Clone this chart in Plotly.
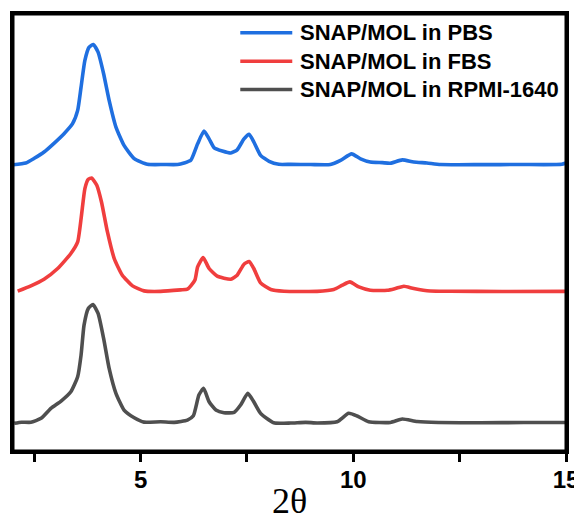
import plotly.graph_objects as go

# ---- data (2θ, intensity above each baseline) ----
pbs_x = [2.0, 2.3, 2.5, 2.73, 2.97, 3.2, 3.4, 3.52, 3.6, 3.69, 3.79, 3.89, 4.0, 4.13, 4.26, 4.42, 4.61, 4.85,
         5.16, 5.55, 5.87, 6.02, 6.18, 6.34, 6.49, 6.61, 6.73, 6.92, 7.12, 7.27, 7.43, 7.55, 7.66, 7.82, 8.02,
         8.25, 8.53, 9.0, 9.46, 9.7, 9.96, 10.17, 10.4, 10.68, 10.87, 11.15, 11.42, 11.73, 12.05, 13.0, 13.92,
         14.9, 15.0]
pbs_y = [0, 1.8, 6.5, 12.8, 21.8, 31.2, 41.2, 54.5, 77.8, 104.5, 117.8, 120.5, 112.8, 91.2, 64.5, 37.8, 19.5, 6.2,
         0.5, 0.3, 0.3, 1.8, 4.5, 21, 33.8, 26, 17, 13.8, 11.8, 15, 26, 30.5, 23, 9.5, 3.5,
         0.5, 0.5, 0.3, 0.3, 4.5, 11, 6, 2.8, 2.2, 1.6, 5, 2.8, 1.8, 0.3, 0.2, 0.3,
         0.5, 1.8]

fbs_x = [2.11, 2.42, 2.73, 3.05, 3.36, 3.52, 3.61, 3.69, 3.77, 3.85, 3.97, 4.08, 4.22, 4.38, 4.57, 4.81, 5.08,
         5.47, 5.94, 6.1, 6.18, 6.28, 6.34, 6.47, 6.61, 6.8, 7.12, 7.27, 7.43, 7.55, 7.66, 7.82, 8.06, 8.37, 9.15,
         9.54, 9.74, 9.92, 10.13, 10.4, 10.8, 10.99, 11.19, 11.42, 11.81, 12.28, 13.5, 15.0]
fbs_y = [0.5, 5.8, 12.5, 23.2, 38.2, 49.8, 76.5, 103.2, 112.5, 113.8, 106.5, 89.8, 59.8, 33.2, 16.5, 5.8, 0.8,
         0.3, 1.8, 2.5, 5.8, 12, 24.8, 34.2, 23.2, 15.5, 12.5, 16.5, 27.5, 30.2, 23.2, 8.8, 2.2, 0.4, 0.3,
         2.2, 6.5, 9.8, 4.8, 1.5, 1.4, 3.2, 5.5, 3.2, 0.6, 0.5, 0.2, 0.3]

rpmi_x = [2.03, 2.2, 2.42, 2.66, 2.89, 3.13, 3.36, 3.52, 3.6, 3.67, 3.77, 3.88, 4.0, 4.13, 4.26, 4.42, 4.61, 4.85,
          5.08, 5.47, 5.79, 6.1, 6.24, 6.37, 6.48, 6.61, 6.77, 6.96, 7.2, 7.35, 7.52, 7.66, 7.82, 8.13, 8.53,
          8.88, 9.15, 9.62, 9.89, 10.09, 10.36, 10.87, 11.15, 11.5, 12.0, 13.0, 14.0, 15.0]
rpmi_y = [-0.3, 0.8, 0.7, 4.7, 14.7, 22, 31.3, 46.3, 68, 98, 114.7, 118.7, 109.7, 84.7, 54.7, 29.7, 13, 5.3,
          0.9, 1.3, 0.7, 3, 7.3, 28, 34.7, 21.3, 13, 10.3, 10.7, 18, 29.7, 21.3, 9.7, 0.2, 0,
          0.7, 0, 1.3, 9.7, 7, 1.3, 0.6, 4, 1.5, 0.5, 0.3, 0.5, 0.5]

series_names = ["SNAP/MOL in PBS", "SNAP/MOL in FBS", "SNAP/MOL in RPMI-1640"]
series_offsets = [286.5, 159.5, 28.0]
series_colors = ["#1f6fe0", "#f03e3e", "#4f4f4f"]

x_tick_vals = [2.5, 5, 7.5, 10, 12.5, 15]
x_tick_text = ["", "5", "", "10", "", "15"]

fig = go.Figure()
for name, xs, ys, off, col in zip(series_names, [pbs_x, fbs_x, rpmi_x], [pbs_y, fbs_y, rpmi_y],
                                  series_offsets, series_colors):
    fig.add_trace(go.Scatter(
        x=xs, y=[v + off for v in ys], mode="lines", name=name,
        line=dict(color=col, width=3.6, shape="spline", smoothing=0.5),
    ))

# legend drawn as key lines + labels in paper coordinates (top-right)
legend_rows_y = [0.957, 0.892, 0.827]
shapes = [dict(type="rect", xref="paper", yref="paper", x0=0, y0=0, x1=1, y1=1,
               line=dict(color="black", width=3), layer="above")]
annotations = []
for name, col, ly in zip(series_names, series_colors, legend_rows_y):
    shapes.append(dict(type="line", xref="paper", yref="paper", x0=0.411, x1=0.505, y0=ly, y1=ly,
                       line=dict(color=col, width=3.5)))
    annotations.append(dict(xref="paper", yref="paper", x=0.5155, y=ly, xanchor="left", yanchor="middle",
                            text=name, showarrow=False,
                            font=dict(family="Liberation Sans, Arial", size=22, weight="bold", color="black")))

fig.update_layout(
    width=574, height=513,
    margin=dict(l=4.5, r=16, t=5.5, b=70, autoexpand=False),
    paper_bgcolor="white", plot_bgcolor="white",
    font=dict(family="Liberation Sans, Arial", color="black"),
    showlegend=False,
    shapes=shapes,
    annotations=annotations,
)
fig.update_xaxes(
    range=[2, 15], tickvals=x_tick_vals, ticktext=x_tick_text,
    ticks="outside", ticklen=8, tickwidth=3, tickcolor="black",
    showline=True, linewidth=3, linecolor="black", mirror=True,
    showgrid=False, zeroline=False, automargin=False,
    ticklabelstandoff=-3,
    tickfont=dict(family="Liberation Sans, Arial", size=24, weight="bold", color="black"),
    title=dict(text="2θ", font=dict(family="Liberation Serif, Times New Roman", size=36, color="black"),
               standoff=26),
)
fig.update_yaxes(
    range=[0, 437.5], showticklabels=False, ticks="",
    showline=True, linewidth=3, linecolor="black", mirror=True,
    showgrid=False, zeroline=False, automargin=False,
)

fig.write_html("out.html")
